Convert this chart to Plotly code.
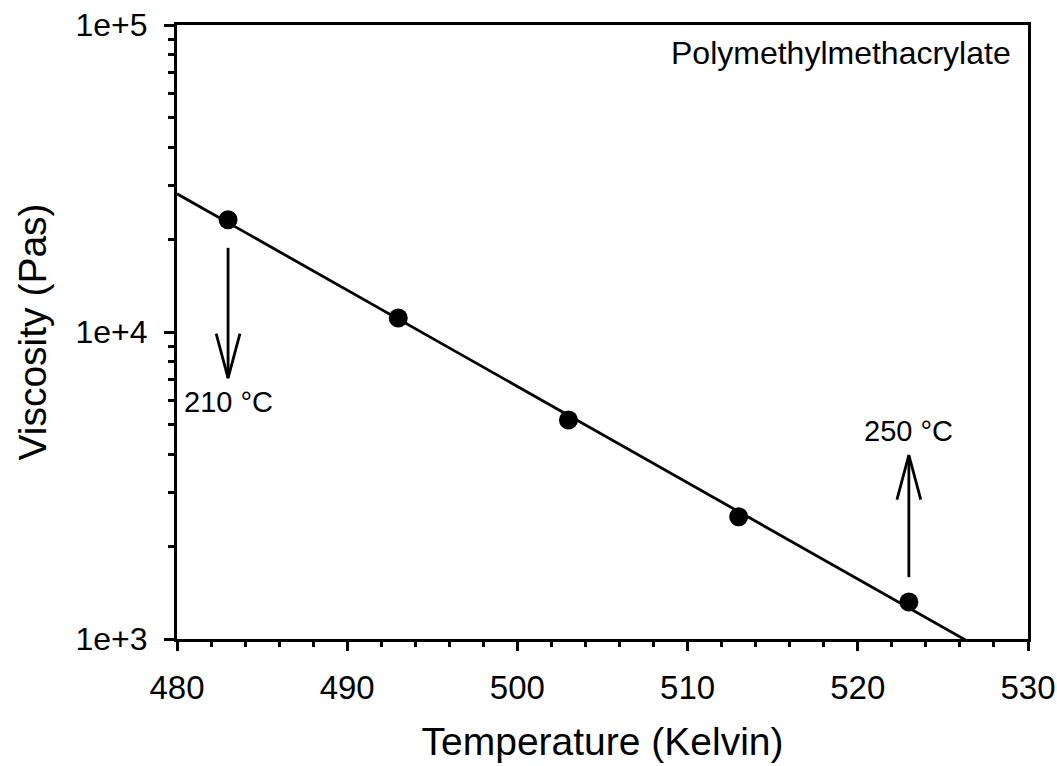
import numpy as np
import plotly.graph_objects as go

# Measured melt viscosity of PMMA at five temperatures
temperature_k = [483, 493, 503, 513, 523]
viscosity_pas = [23200, 11100, 5170, 2500, 1320]

# Marker arrows for the two processing limits (x, start, tip), in Pa·s
arrow_labels = ["210 °C", "250 °C"]
arrow_x = [483, 523]
arrow_start = [18800, 1590]
arrow_tip = [7080, 3970]
label_y = [5900, 4750]

x_ticks = [480, 490, 500, 510, 520, 530]
y_ticks = [1e3, 1e4, 1e5]
y_tick_text = ["1e+3", "1e+4", "1e+5"]

FONT = "Liberation Sans, Arial, sans-serif"
LW = 2.8
AXW = 3

# Arrhenius-type fit: log10(eta) linear in T
slope, intercept = np.polyfit(temperature_k, np.log10(viscosity_pas), 1)
fit_x = np.array([480.0, 530.0])
fit_y = 10 ** (slope * fit_x + intercept)

fig = go.Figure()
fig.add_trace(go.Scatter(x=fit_x, y=fit_y, mode="lines",
                         line=dict(color="black", width=LW), hoverinfo="skip"))
fig.add_trace(go.Scatter(x=temperature_k, y=viscosity_pas, mode="markers",
                         marker=dict(color="black", size=19)))

# Open V-head arrows drawn as polylines in log space
wing_dx = 0.7
wing_dlog = 0.145
for x, y0, y1 in zip(arrow_x, arrow_start, arrow_tip):
    direction = np.sign(np.log10(y1) - np.log10(y0))
    wing_y = 10 ** (np.log10(y1) - direction * wing_dlog)
    fig.add_trace(go.Scatter(x=[x, x], y=[y0, y1], mode="lines",
                             line=dict(color="black", width=LW), hoverinfo="skip"))
    fig.add_trace(go.Scatter(x=[x - wing_dx, x, x + wing_dx],
                             y=[wing_y, y1, wing_y], mode="lines",
                             line=dict(color="black", width=LW), hoverinfo="skip"))

for text, x, y in zip(arrow_labels, arrow_x, label_y):
    fig.add_annotation(x=x, y=np.log10(y), xref="x", yref="y", text=text,
                       showarrow=False, font=dict(family=FONT, size=29, color="black"))

fig.add_annotation(x=0.982, y=0.955, xref="paper", yref="paper",
                   xanchor="right", yanchor="middle", showarrow=False,
                   text="Polymethylmethacrylate",
                   font=dict(family=FONT, size=32, color="black"))

fig.update_layout(
    width=1057, height=766,
    margin=dict(l=177, r=29, t=25, b=127, autoexpand=False),
    paper_bgcolor="white", plot_bgcolor="white",
    showlegend=False,
    font=dict(family=FONT, color="black"),
)
fig.update_xaxes(
    range=[480, 530], tickvals=x_ticks, showgrid=False, zeroline=False,
    automargin=False,
    showline=True, linecolor="black", linewidth=AXW, mirror=True,
    ticks="outside", ticklen=9, tickwidth=2.5, tickcolor="black",
    tickfont=dict(family=FONT, size=33), ticklabelstandoff=8,
    minor=dict(dtick=2, ticks="outside", ticklen=5, tickwidth=2.5, tickcolor="black", showgrid=False),
    title=dict(text="Temperature (Kelvin)", font=dict(family=FONT, size=39), standoff=24),
)
fig.update_yaxes(
    type="log", range=[3, 5], tickvals=y_ticks, ticktext=y_tick_text,
    showgrid=False, zeroline=False, automargin=False,
    showline=True, linecolor="black", linewidth=AXW, mirror=True,
    ticks="outside", ticklen=10, tickwidth=2.5, tickcolor="black",
    tickfont=dict(family=FONT, size=32), ticklabelstandoff=10,
    minor=dict(tickvals=[m * 10 ** e for e in (3, 4) for m in range(2, 10)],
               ticks="outside", ticklen=6, tickwidth=2.5, tickcolor="black", showgrid=False),
    title=dict(text="Viscosity (Pas)", font=dict(family=FONT, size=39), standoff=17),
)

fig.write_html("out.html")
